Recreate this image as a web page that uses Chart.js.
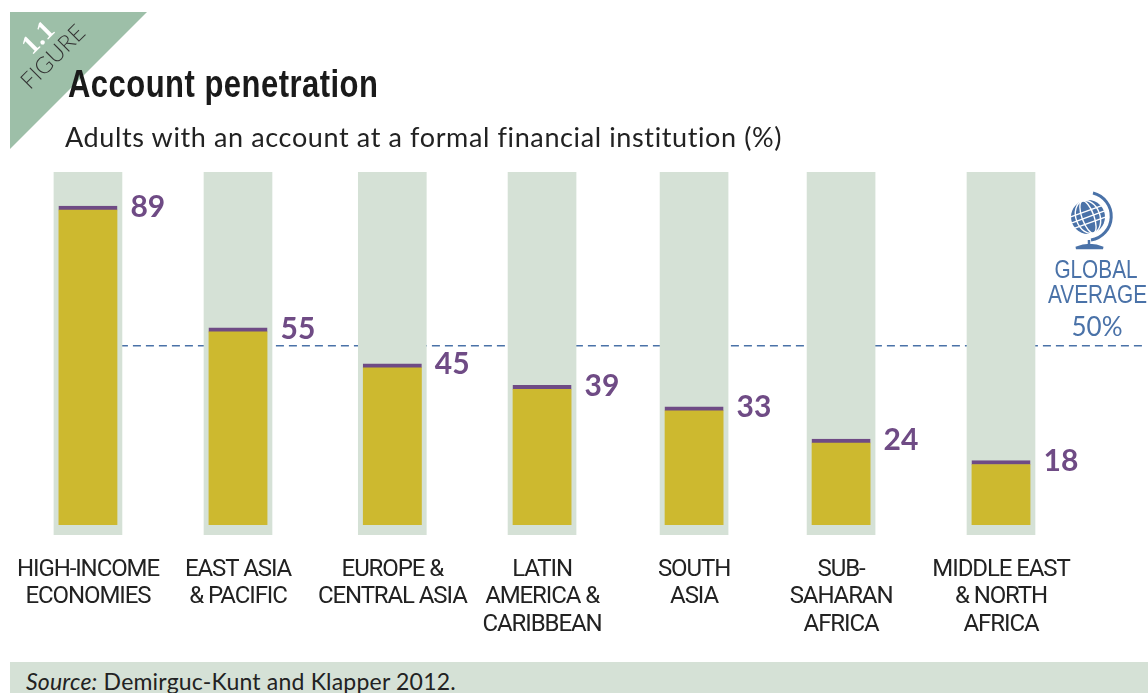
<!DOCTYPE html>
<html>
<head>
<meta charset="utf-8">
<title>Account penetration</title>
<script src="https://cdn.jsdelivr.net/npm/chart.js@4/dist/chart.umd.min.js"></script>
<style>
  html, body { margin: 0; padding: 0; background: #fff; overflow: hidden; }
  #page { position: relative; width: 1148px; height: 693px; overflow: hidden; }
  #page div, #page svg { position: absolute; }
  canvas { position: absolute; left: 0; top: 0; }
  #corner { left: 10px; top: 12px; width: 137px; height: 137px; background: #9dbfa8; clip-path: polygon(0 0, 100% 0, 0 100%); }
  #figNum { left: 8px; top: 22px; width: 60px; text-align: center; font: bold 27px "Liberation Serif", serif; color: #fff; transform: rotate(-45deg); }
  #figWord { left: 12px; top: 42px; width: 80px; text-align: center; font: 300 23px Lato, sans-serif; color: #333; transform: rotate(-45deg); }
  #title { left: 68px; top: 63px; font: bold 38px "Liberation Sans", sans-serif; color: #1a1a1a; white-space: nowrap; letter-spacing: 0.6px; transform: scaleX(0.815); transform-origin: left top; }
  #subtitle { left: 65px; top: 120px; font: 27px Lato, sans-serif; color: #222; white-space: nowrap; letter-spacing: 0.62px; }
  #avg { left: 1036px; top: 257px; width: 120px; text-align: center; font: 26px "Liberation Sans", sans-serif; color: #4a72a8; line-height: 25px; transform: scaleX(0.8); }
  #avgPct { left: 1037px; top: 310px; width: 120px; text-align: center; font: 26px Lato, sans-serif; color: #4a72a8; }
  #source { left: 10px; top: 662px; width: 1138px; height: 31px; background: #d5e1d6; font: 23px Lato, sans-serif; color: #222; line-height: 38px; text-indent: 16px; white-space: nowrap; letter-spacing: 0.2px; }
</style>
</head>
<body>
<div id="page">
  <canvas id="chart" width="1148" height="693"></canvas>
  <div id="corner"></div>
  <div id="figNum">1.1</div>
  <div id="figWord">FIGURE</div>
  <div id="title">Account penetration</div>
  <div id="subtitle">Adults with an account at a formal financial institution (%)</div>
  <svg style="left:1066px;top:190px" width="54" height="62" viewBox="0 0 54 62">
    <circle cx="22" cy="27" r="17" fill="#4a72a8"/>
    <g stroke="#fff" stroke-width="1.4" fill="none" transform="rotate(-20 22 27)">
      <path d="M5 21 H39 M5 33 H39 M5 27 H39"/>
      <ellipse cx="22" cy="27" rx="6" ry="17"/>
      <ellipse cx="22" cy="27" rx="12" ry="17"/>
    </g>
    <path d="M27 3 A24 24 0 0 1 25 50" stroke="#4a72a8" stroke-width="3" fill="none"/>
    <path d="M23 50 V56 M10 58 Q24 52 37 58 Z" stroke="#4a72a8" stroke-width="2.5" fill="#4a72a8"/>
  </svg>
  <div id="avg">GLOBAL<br>AVERAGE</div>
  <div id="avgPct">50%</div>
  <div id="source"><i>Source:</i> Demirguc-Kunt and Klapper 2012.</div>
</div>
<script>
const categories = [
    ['HIGH-INCOME', 'ECONOMIES'],
    ['EAST ASIA', '& PACIFIC'],
    ['EUROPE &', 'CENTRAL ASIA'],
    ['LATIN', 'AMERICA &', 'CARIBBEAN'],
    ['SOUTH', 'ASIA'],
    ['SUB-', 'SAHARAN', 'AFRICA'],
    ['MIDDLE EAST', '& NORTH', 'AFRICA']
];
const accountShare = [89, 55, 45, 39, 33, 24, 18];
const globalAverage = 50;

// slot of each bar on the x axis, the gaps in the original are not quite even
const barSlots = [0, 0.986, 2, 2.984, 3.983, 4.949, 6];
const xRange = [-0.578, 6.966];
const yRange = [-2.8, 98.5];
const avgLineSlots = [0.21, 6.93];

const valueLabels = {
    id: 'valueLabels',
    beforeDraw(chart) {
        // no narrow font installed, tighten the axis labels instead
        chart.ctx.letterSpacing = '-1.1px';
    },
    afterDatasetsDraw(chart) {
        const ctx = chart.ctx;
        const bars = chart.getDatasetMeta(1).data;
        ctx.save();
        ctx.letterSpacing = '0px';
        ctx.font = 'bold 30px Lato, sans-serif';
        ctx.textBaseline = 'middle';
        bars.forEach((bar, i) => {
            const text = String(accountShare[i]);
            const x = bar.x + bar.width / 2 + 13;
            // white patch so the dashed line stops around the number
            ctx.fillStyle = '#fff';
            ctx.fillRect(x - 7, bar.y - 14, ctx.measureText(text).width + 18, 28);
            ctx.fillStyle = '#6f4b85';
            ctx.fillText(text, x, bar.y + 1);
        });
        ctx.restore();
    }
};

new Chart(document.getElementById('chart'), {
    data: {
        datasets: [
            {
                type: 'line',
                data: avgLineSlots.map(s => ({ x: s, y: globalAverage })),
                borderColor: '#4a72a8',
                borderWidth: 1.5,
                borderDash: [8, 5],
                pointRadius: 0,
                order: 3
            },
            {
                type: 'bar',
                data: barSlots.map((s, i) => ({ x: s, y: accountShare[i] })),
                backgroundColor: '#cdb92f',
                borderColor: '#6f4b85',
                borderWidth: { top: 4, left: 0, right: 0, bottom: 0 },
                borderSkipped: false,
                barThickness: 59,
                grouped: false,
                order: 1
            },
            {
                type: 'bar',
                data: barSlots.map(s => ({ x: s, y: yRange })),
                backgroundColor: '#d5e1d6',
                barThickness: 68,
                grouped: false,
                order: 2
            }
        ]
    },
    options: {
        responsive: false,
        animation: false,
        layout: { padding: { top: 172, left: 0, right: 0, bottom: 0 } },
        plugins: { legend: { display: false }, tooltip: { enabled: false }, title: { display: false } },
        scales: {
            x: {
                type: 'linear',
                offset: false,
                min: xRange[0],
                max: xRange[1],
                grid: { display: false },
                border: { display: false },
                afterBuildTicks: scale => { scale.ticks = barSlots.map(s => ({ value: s })); },
                afterFit: scale => {
                    scale.height = 158;
                    // plot runs the full page width, labels must not pull it in
                    scale.paddingLeft = 0;
                    scale.paddingRight = 0;
                },
                ticks: {
                    autoSkip: false,
                    maxRotation: 0,
                    padding: 13,
                    color: '#222',
                    font: { family: 'Roboto, sans-serif', size: 24, lineHeight: 1.15 },
                    callback: (value, index) => categories[index]
                }
            },
            y: {
                display: false,
                min: yRange[0],
                max: yRange[1]
            }
        }
    },
    plugins: [valueLabels]
});
</script>
</body>
</html>
